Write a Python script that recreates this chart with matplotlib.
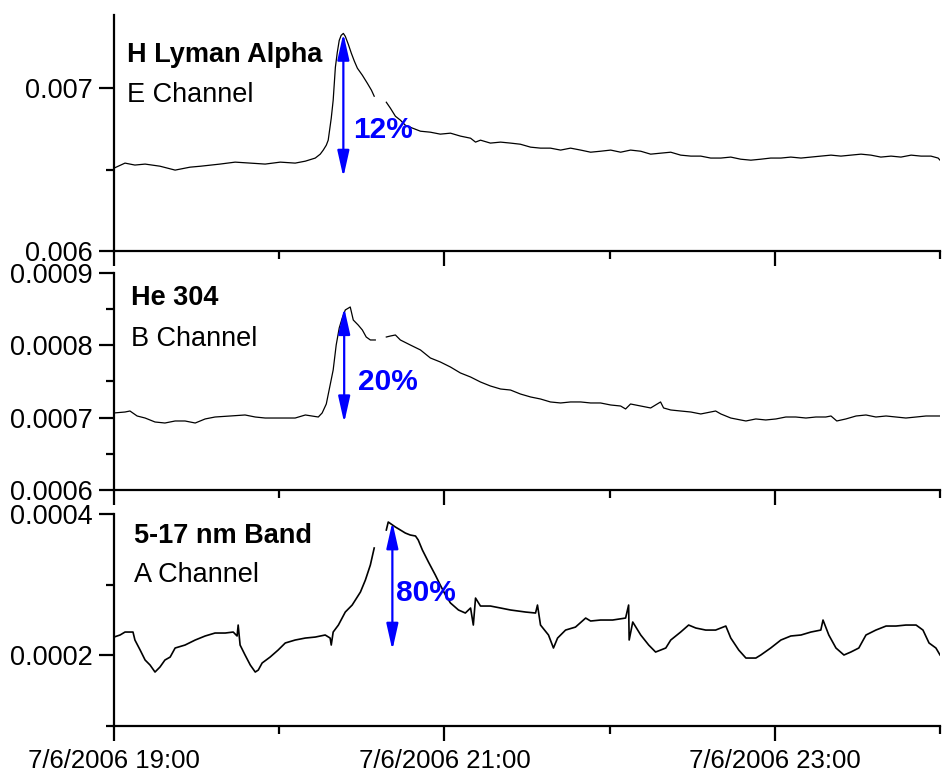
import numpy as np
import pandas as pd
import matplotlib
matplotlib.use("Agg")
import matplotlib.pyplot as plt
import matplotlib.dates as mdates
from matplotlib.ticker import MultipleLocator, FuncFormatter
from matplotlib.patches import ArrowStyle

plt.rcParams['font.family'] = ['Liberation Sans', 'DejaVu Sans']

start = pd.Timestamp('2006-07-06 19:00')
nan = np.nan

# H Lyman Alpha, E channel (minutes after 19:00, signal)
lya_min = [0, 4, 7.6, 11.3, 16.7, 22.2, 27.6, 31.5, 38.5, 44, 49.5, 54.9, 60.4, 65.8, 69.5,
           73.1, 74.9, 76, 77.1, 77.8, 78.9, 79.6, 80.4, 81.1, 81.8, 82.5, 83.3, 84, 85.1,
           86.2, 87.3, 88.4, 90.2, 92, 93.5, 94.5, 96.5, 98.9, 100.4, 102.2, 104, 105.8,
           108.4, 111.3, 114.9, 118.5, 122.2, 125.8, 129.5, 131.3, 133.1, 136.7, 140.4, 144,
           147.6, 151.3, 154.9, 158.5, 162.2, 165.8, 169.5, 173.1, 176.7, 180.4, 184, 187.6,
           191.3, 194.9, 198.5, 202.2, 205.8, 209.5, 213.1, 216.7, 220.4, 224, 227.6, 231.3,
           234.9, 238.5, 242.2, 245.8, 249.5, 253.1, 256.7, 260.4, 264, 267.6, 271.3, 274.9,
           278.5, 282.2, 285.8, 289.5, 293.1, 296.7, 299.3, 300]
lya_val = [0.006509, 0.006540, 0.006528, 0.006534, 0.006521, 0.006497, 0.006515, 0.006521,
           0.006534, 0.006546, 0.006540, 0.006534, 0.006546, 0.006540, 0.006552, 0.006571,
           0.006595, 0.006620, 0.006650, 0.006681, 0.006816, 0.006926, 0.007129, 0.007221,
           0.007294, 0.007325, 0.007337, 0.007319, 0.007270, 0.007215, 0.007166, 0.007123,
           0.007080, 0.007031, 0.006988, 0.006951, nan, 0.006914, 0.006877, 0.006828,
           0.006804, 0.006773, 0.006755, 0.006736, 0.006730, 0.006718, 0.006724, 0.006706,
           0.006693, 0.006669, 0.006681, 0.006663, 0.006669, 0.006663, 0.006656, 0.006638,
           0.006632, 0.006632, 0.006620, 0.006632, 0.006620, 0.006607, 0.006613, 0.006620,
           0.006607, 0.006620, 0.006613, 0.006595, 0.006601, 0.006607, 0.006589, 0.006583,
           0.006583, 0.006571, 0.006571, 0.006577, 0.006564, 0.006558, 0.006564, 0.006571,
           0.006571, 0.006577, 0.006571, 0.006577, 0.006583, 0.006589, 0.006583, 0.006589,
           0.006595, 0.006589, 0.006577, 0.006583, 0.006577, 0.006589, 0.006583, 0.006583,
           0.006571, 0.006558]

# He 304, B channel
he_min = [0, 4, 5.8, 8.4, 11.3, 14.9, 18.5, 22.2, 25.8, 29.5, 33.1, 36.7, 42.2, 47.6, 51.3,
          54.9, 60.4, 65.8, 69.5, 74.2, 75.6, 77.1, 78.5, 79.6, 80.7, 81.8, 82.9, 84, 85.8,
          86.9, 88.7, 90.2, 91.6, 93.1, 94.9, 96.5, 98.9, 100.4, 102.2, 104, 107.6, 111.3,
          114.9, 118.5, 122.2, 125.8, 129.5, 133.1, 136.7, 140.4, 144, 147.6, 151.3, 154.9,
          158.5, 162.2, 165.8, 169.5, 173.1, 176.7, 180.4, 184, 185.8, 187.6, 191.3, 194.9,
          198.5, 199.6, 202.2, 205.8, 209.5, 213.1, 218.5, 220.4, 224, 227.6, 229.5, 233.1,
          236.7, 240.4, 244, 247.6, 251.3, 254.9, 258.5, 260.4, 262.5, 265.8, 269.5, 273.1,
          276.7, 280.4, 284, 287.6, 291.3, 294.9, 298.5, 300]
he_val = [0.0007065, 0.0007078, 0.0007092, 0.0007023, 0.0006995, 0.0006940, 0.0006926,
          0.0006954, 0.0006954, 0.0006926, 0.0006982, 0.0007009, 0.0007023, 0.0007037,
          0.0007009, 0.0006995, 0.0006995, 0.0006995, 0.0007037, 0.0007009, 0.0007065,
          0.0007189, 0.0007452, 0.0007659, 0.0008005, 0.0008240, 0.0008378, 0.0008489,
          0.0008530, 0.0008350, 0.0008280, 0.0008212, 0.0008115, 0.0008074, 0.0008074, nan,
          0.0008115, 0.0008129, 0.0008143, 0.0008074, 0.0008005, 0.0007936, 0.0007825,
          0.0007770, 0.0007700, 0.0007618, 0.0007562, 0.0007493, 0.0007438, 0.0007396,
          0.0007382, 0.0007327, 0.0007286, 0.0007258, 0.0007217, 0.0007203, 0.0007217,
          0.0007217, 0.0007203, 0.0007203, 0.0007175, 0.0007161, 0.0007120, 0.0007189,
          0.0007161, 0.0007134, 0.0007217, 0.0007134, 0.0007106, 0.0007092, 0.0007078,
          0.0007051, 0.0007092, 0.0007051, 0.0006995, 0.0006968, 0.0006954, 0.0006982,
          0.0006968, 0.0006982, 0.0007009, 0.0007009, 0.0006995, 0.0007009, 0.0007009,
          0.0007023, 0.0006954, 0.0006982, 0.0007023, 0.0007037, 0.0007009, 0.0007023,
          0.0007009, 0.0006995, 0.0007009, 0.0007023, 0.0007023, 0.0007023]

# 5-17 nm band, A channel
band_min = [0, 2.2, 4, 6.9, 7.6, 9.5, 11.3, 13.1, 14.9, 16.7, 18.5, 20.4, 22.2, 25.8, 29.5,
            33.1, 36.7, 40.4, 43.3, 44.7, 45.1, 45.8, 47.6, 49.5, 51.3, 52.4, 53.8, 56.7,
            59.6, 62.2, 65.8, 69.5, 73.1, 76.7, 78.5, 78.9, 79.6, 81.5, 84, 86.5, 89.5, 91.3,
            93.1, 94.5, 96.5, 98.9, 99.6, 102.2, 104, 105.8, 107.6, 109.5, 110.5, 112, 114.2,
            116.7, 118.5, 120.4, 122.2, 125.1, 127.6, 129.5, 130.5, 131.3, 133.1, 136.7,
            140.4, 144, 149.5, 153.1, 153.8, 154.9, 157.8, 159.6, 161.1, 164, 167.6, 171.3,
            173.1, 176.7, 181.1, 185.8, 186.9, 187.1, 188.4, 191.3, 194.2, 196.7, 200.4,
            202.2, 205.8, 208.7, 211.3, 214.9, 218.5, 222.2, 224, 226.9, 229.5, 233.1, 234.9,
            238.5, 242.2, 245.8, 249.5, 253.1, 256.7, 257.5, 259.6, 262.2, 265.1, 267.6,
            270.5, 273.1, 276.7, 280.4, 284, 287.6, 291.3, 293.8, 296, 298.5, 300]
band_val = [0.0002259, 0.0002288, 0.0002330, 0.0002330, 0.0002217, 0.0002075, 0.0001934,
            0.0001863, 0.0001764, 0.0001835, 0.0001934, 0.0001976, 0.0002104, 0.0002146,
            0.0002217, 0.0002274, 0.0002316, 0.0002316, 0.0002330, 0.0002274, 0.0002429,
            0.0002146, 0.0002005, 0.0001863, 0.0001764, 0.0001792, 0.0001892, 0.0001976,
            0.0002075, 0.0002175, 0.0002217, 0.0002245, 0.0002259, 0.0002288, 0.0002245,
            0.0002146, 0.0002330, 0.0002429, 0.0002613, 0.0002712, 0.0002896, 0.0003066,
            0.0003278, 0.0003519, nan, 0.0003774, 0.0003887, 0.0003816, 0.0003774, 0.0003731,
            0.0003703, 0.0003689, 0.0003632, 0.0003491, 0.0003321, 0.0003137, 0.0002995,
            0.0002854, 0.0002741, 0.0002642, 0.0002599, 0.0002670, 0.0002429, 0.0002811,
            0.0002698, 0.0002698, 0.0002670, 0.0002642, 0.0002613, 0.0002599, 0.0002712,
            0.0002429, 0.0002288, 0.0002104, 0.0002245, 0.0002358, 0.0002400, 0.0002528,
            0.0002486, 0.0002500, 0.0002500, 0.0002528, 0.0002712, 0.0002217, 0.0002472,
            0.0002288, 0.0002146, 0.0002047, 0.0002104, 0.0002217, 0.0002330, 0.0002429,
            0.0002387, 0.0002358, 0.0002358, 0.0002415, 0.0002245, 0.0002075, 0.0001962,
            0.0001962, 0.0002005, 0.0002104, 0.0002217, 0.0002274, 0.0002288, 0.0002330,
            0.0002358, 0.0002500, 0.0002288, 0.0002104, 0.0002005, 0.0002047, 0.0002104,
            0.0002288, 0.0002358, 0.0002415, 0.0002415, 0.0002429, 0.0002429, 0.0002358,
            0.0002175, 0.0002104, 0.0002005]

# flare rise markers: time (min), low, high, label
arrow_min = [83.3, 83.6, 101.1]
arrow_low = [0.006454, 0.000693, 0.0002075]
arrow_high = [0.007337, 0.000852, 0.0003887]
pct_labels = ['12%', '20%', '80%']
pct_min = [86.8, 88.6, 102.4]
pct_y = [0.006742, 0.000749, 0.000288]

titles = ['H Lyman Alpha', 'He 304', '5-17 nm Band']
channels = ['E Channel', 'B Channel', 'A Channel']
ylims = [(0.006, 0.00745), (0.0006, 0.0009), (0.0001, 0.0004)]
ymajor = [0.001, 0.0001, 0.0002]
yminor = [0.0005, 0.00005, 0.0001]

series = [(lya_min, lya_val), (he_min, he_val), (band_min, band_val)]
line_w = [0.9, 0.9, 1.2]

fig = plt.figure(figsize=(9.46, 7.78), dpi=100)
boxes = [[0.1205, 0.6774, 0.8732, 0.3033],
         [0.1205, 0.3702, 0.8732, 0.2789],
         [0.1205, 0.0668, 0.8732, 0.2725]]
title_pos = [(0.016, 0.801, 0.631), (0.021, 0.853, 0.664), (0.024, 0.863, 0.679)]

def tm(mins):
    return start + pd.to_timedelta(np.asarray(mins, dtype=float), unit='min')

def date_label(v, pos):
    d = mdates.num2date(v)
    return f"{d.month}/{d.day}/{d.year} {d:%H:%M}"

blue = '#0000ff'
for i, (mins, vals) in enumerate(series):
    ax = fig.add_axes(boxes[i])
    ax.plot(tm(mins), vals, color='black', lw=line_w[i])
    ax.set_xlim(start, start + pd.Timedelta(hours=5))
    ax.set_ylim(*ylims[i])
    ax.yaxis.set_major_locator(MultipleLocator(ymajor[i]))
    ax.yaxis.set_minor_locator(MultipleLocator(yminor[i]))
    ax.yaxis.set_major_formatter(FuncFormatter(lambda v, p: '%g' % round(v, 6)))
    ax.xaxis.set_major_locator(mdates.HourLocator(byhour=[19, 21, 23]))
    ax.xaxis.set_minor_locator(mdates.HourLocator(byhour=[0, 20, 22]))
    ax.xaxis.set_major_formatter(FuncFormatter(date_label))
    for s in ['top', 'right']:
        ax.spines[s].set_visible(False)
    for s in ['left', 'bottom']:
        ax.spines[s].set_linewidth(1.6)
    ax.tick_params(which='major', length=10.5, width=1.6, pad=5)
    ax.tick_params(which='minor', length=6, width=1.6)
    ax.tick_params(axis='y', which='major', labelsize=19.5)
    ax.tick_params(axis='x', which='major', labelsize=18.5, pad=6)
    if i < 2:
        ax.tick_params(axis='x', labelbottom=False)

    tx, ty1, ty2 = title_pos[i]
    ax.text(tx, ty1, titles[i], transform=ax.transAxes, fontsize=19.5, fontweight='bold',
            va='baseline', ha='left')
    ax.text(tx, ty2, channels[i], transform=ax.transAxes, fontsize=19.5,
            va='baseline', ha='left')

    at = tm([arrow_min[i]])[0]
    ax.annotate('', xy=(at, arrow_high[i]), xytext=(at, arrow_low[i]),
                arrowprops=dict(arrowstyle=ArrowStyle('<|-|>', head_length=0.8, head_width=0.18),
                                mutation_scale=20, color=blue, lw=1.6, shrinkA=0, shrinkB=0))
    ax.text(tm([pct_min[i]])[0], pct_y[i], pct_labels[i], color=blue, fontsize=21.5,
            fontweight='bold', va='center', ha='left')

fig.savefig('out.png', dpi=100)
